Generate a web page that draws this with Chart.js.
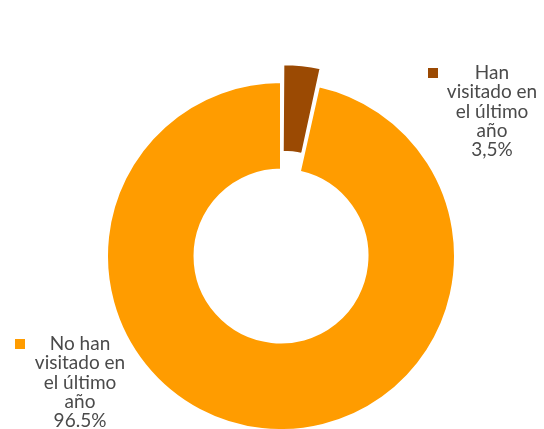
<!DOCTYPE html>
<html>
<head>
<meta charset="utf-8">
<script src="https://cdn.jsdelivr.net/npm/chart.js@4.4.0/dist/chart.umd.min.js"></script>
<style>
html,body{margin:0;padding:0;background:#fff;}
#wrap{width:544px;height:429px;position:relative;}
</style>
</head>
<body>
<div id="wrap"><canvas id="c" width="544" height="429"></canvas></div>
<script>
const categories = ["Han visitado en el último año", "No han visitado en el último año"];
const values = [3.5, 96.5];
const valueLabels = ["3,5%", "96.5%"];
const labelLines = [
  ["Han", "visitado en", "el último", "año"],
  ["No han", "visitado en", "el último", "año"]
];
const colors = ["#9B4A03", "#FF9C00"];
const offsets = [40, 0];

const labelPlugin = {
  id: 'sideLabels',
  afterDraw(chart) {
    const ctx = chart.ctx;
    const spots = [
      {cx: 492, y: 79, sq: 428, sqy: 68},
      {cx: 80, y: 350, sq: 15, sqy: 339}
    ];
    ctx.save();
    ctx.font = '19px Lato, "Open Sans", sans-serif';
    ctx.textAlign = 'center';
    ctx.textBaseline = 'alphabetic';
    spots.forEach((s, i) => {
      ctx.fillStyle = colors[i];
      ctx.fillRect(s.sq, s.sqy, 10, 10);
      ctx.fillStyle = '#4a4a4a';
      const lines = labelLines[i].concat([valueLabels[i]]);
      lines.forEach((t, k) => ctx.fillText(t, s.cx, s.y + k * 19.3));
    });
    ctx.restore();
  }
};

new Chart(document.getElementById('c'), {
  type: 'doughnut',
  data: {
    labels: categories,
    datasets: [{
      data: values,
      backgroundColor: colors,
      borderColor: '#ffffff',
      borderWidth: 2,
      offset: offsets,
      hoverOffset: 0
    }]
  },
  options: {
    responsive: false,
    animation: false,
    radius: 174,
    cutout: '49.7%',
    layout: {padding: {left: 18, top: 83, right: 0, bottom: 0}},
    plugins: {
      legend: {display: false},
      tooltip: {enabled: false}
    }
  },
  plugins: [labelPlugin]
});
</script>
</body>
</html>
